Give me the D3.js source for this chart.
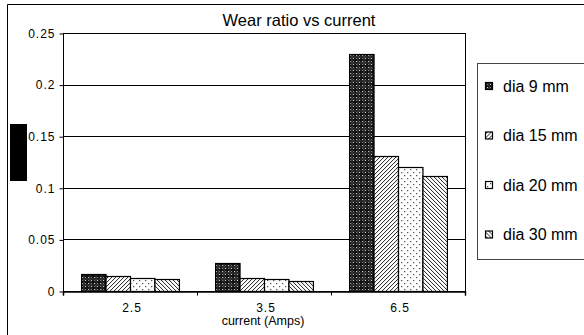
<!DOCTYPE html>
<html>
<head>
<meta charset="utf-8">
<script src="https://cdn.jsdelivr.net/npm/d3@7"></script>
<style>
  body { margin: 0; background: #fff; }
  text { font-family: "Liberation Sans", Arial, sans-serif; }
</style>
</head>
<body>
<script>
// data
var categories = ["2.5", "3.5", "6.5"];
var seriesNames = ["dia 9 mm", "dia 15 mm", "dia 20 mm", "dia 30 mm"];
var dia9 = [0.016, 0.027, 0.230];
var dia15 = [0.015, 0.013, 0.131];
var dia20 = [0.013, 0.0115, 0.120];
var dia30 = [0.0115, 0.010, 0.111];
var yTicks = [0, 0.05, 0.1, 0.15, 0.2, 0.25];

var series = [dia9, dia15, dia20, dia30];
var patIds = ["p9", "p15", "p20", "p30"];

var W = 584, H = 335;
// plot area edges (don't use "top", it is window.top)
var pL = 63, pT = 33, pR = 465, pB = 291;

var svg = d3.select("body").append("svg")
  .attr("width", W).attr("height", H);

// patterns
var defs = svg.append("defs");
var p = defs.append("pattern").attr("id", "p9").attr("patternUnits", "userSpaceOnUse")
  .attr("width", 6).attr("height", 6);
p.append("rect").attr("width", 6).attr("height", 6).attr("fill", "#111");
p.append("rect").attr("x", 1).attr("y", 1).attr("width", 1).attr("height", 1).attr("fill", "#ddd");
p.append("rect").attr("x", 4).attr("y", 4).attr("width", 1).attr("height", 1).attr("fill", "#ddd");
p.append("rect").attr("x", 4).attr("y", 1).attr("width", 1).attr("height", 1).attr("fill", "#888");
p.append("rect").attr("x", 1).attr("y", 4).attr("width", 1).attr("height", 1).attr("fill", "#888");
p.append("path").attr("d", "M0,3h6M3,0v6").attr("stroke", "#555").attr("stroke-width", 0.6);

p = defs.append("pattern").attr("id", "p15").attr("patternUnits", "userSpaceOnUse")
  .attr("width", 4).attr("height", 4);
p.append("rect").attr("width", 4).attr("height", 4).attr("fill", "#fff");
p.append("path").attr("d", "M-1,1L1,-1M0,4L4,0M3,5L5,3").attr("stroke", "#222").attr("stroke-width", 1);

p = defs.append("pattern").attr("id", "p20").attr("patternUnits", "userSpaceOnUse")
  .attr("width", 6).attr("height", 6);
p.append("rect").attr("width", 6).attr("height", 6).attr("fill", "#fff");
p.append("rect").attr("x", 1).attr("y", 1).attr("width", 1.2).attr("height", 1.2).attr("fill", "#444");
p.append("rect").attr("x", 4).attr("y", 4).attr("width", 1.2).attr("height", 1.2).attr("fill", "#444");

p = defs.append("pattern").attr("id", "p30").attr("patternUnits", "userSpaceOnUse")
  .attr("width", 4).attr("height", 4);
p.append("rect").attr("width", 4).attr("height", 4).attr("fill", "#fff");
p.append("path").attr("d", "M-1,3L1,5M0,0L4,4M3,-1L5,1").attr("stroke", "#222").attr("stroke-width", 1);

// outer frame (only left/top visible)
svg.append("path").attr("d", "M7.5," + H + "V4.5H" + W)
  .attr("fill", "none").attr("stroke", "#000").attr("stroke-width", 1);

// plot area
svg.append("rect").attr("x", pL + 0.5).attr("y", pT + 0.5)
  .attr("width", pR - pL).attr("height", pB - pT)
  .attr("fill", "#fff").attr("stroke", "#000").attr("stroke-width", 1);

var x = d3.scaleBand().domain(categories).range([pL, pR]).paddingInner(0.27).paddingOuter(0.135);
var y = d3.scaleLinear().domain([0, 0.25]).range([pB, pT]);
var xs = d3.scaleBand().domain(d3.range(series.length)).range([0, x.bandwidth()]);

// gridlines
svg.append("g").selectAll("line").data(yTicks.slice(1)).enter().append("line")
  .attr("x1", pL).attr("x2", pR)
  .attr("y1", function (d) { return Math.round(y(d)) + 0.5; })
  .attr("y2", function (d) { return Math.round(y(d)) + 0.5; })
  .attr("stroke", "#000");

// y axis
var ya = svg.append("g").attr("transform", "translate(" + (pL + 0.5) + ",0.5)")
  .call(d3.axisLeft(y).tickValues(yTicks).tickSize(4).tickSizeOuter(0)
    .tickFormat(function (d) { return d3.format("")(d); }));
ya.selectAll("text").attr("font-size", "12px").attr("letter-spacing", "1px").attr("dx", "-1px")
  .attr("fill", "#000").attr("font-family", "Liberation Sans, Arial");
ya.select(".domain").remove();
ya.selectAll("line").attr("stroke", "#000");

// bars
var groups = svg.append("g").selectAll("g").data(categories).enter().append("g")
  .attr("transform", function (d) { return "translate(" + x(d) + ",0)"; });
groups.selectAll("rect").data(function (d, i) {
    return series.map(function (s, j) { return { j: j, v: s[i] }; });
  }).enter().append("rect")
  .attr("x", function (d) { return xs(d.j) + 0.5; })
  .attr("y", function (d) { return Math.round(y(d.v)) + 0.5; })
  .attr("width", xs.bandwidth())
  .attr("height", function (d) { return pB - Math.round(y(d.v)); })
  .attr("fill", function (d) { return "url(#" + patIds[d.j] + ")"; })
  .attr("stroke", "#000").attr("stroke-width", 1.2);

// x axis
var xa = svg.append("g").attr("transform", "translate(0," + (pB + 0.5) + ")")
  .call(d3.axisBottom(d3.scaleLinear().domain([0, 3]).range([pL, pR]))
    .tickValues([0, 1, 2, 3]).tickSize(4).tickFormat(""));
xa.select(".domain").attr("stroke", "#000").attr("stroke-width", 1.5);
xa.selectAll("line").attr("stroke", "#000");
svg.append("g").selectAll("text").data(categories).enter().append("text")
  .attr("x", function (d) { return x(d) + x.bandwidth() / 2 + 2; })
  .attr("y", 312)
  .attr("text-anchor", "middle").attr("font-size", "12px").attr("letter-spacing", "1px")
  .text(function (d) { return d; });

svg.append("text").attr("x", 263).attr("y", 325).attr("text-anchor", "middle")
  .attr("font-size", "12.5px").text("current (Amps)");

// title
svg.append("text").attr("x", 299).attr("y", 26).attr("text-anchor", "middle")
  .attr("font-size", "16.5px").text("Wear ratio vs current");

// y-axis title box (rendered as solid block in reference)
svg.append("rect").attr("x", 10).attr("y", 124).attr("width", 17).attr("height", 57).attr("fill", "#000");

// legend
svg.append("rect").attr("x", 477.5).attr("y", 63.5).attr("width", 120).attr("height", 196)
  .attr("fill", "#fff").attr("stroke", "#444").attr("stroke-width", 1);
var lg = svg.append("g").selectAll("g").data(seriesNames).enter().append("g")
  .attr("transform", function (d, i) { return "translate(0," + (86 + i * 49.5) + ")"; });
lg.append("rect").attr("x", 485.5).attr("y", -3.5).attr("width", 7).attr("height", 7)
  .attr("fill", function (d, i) { return "url(#" + patIds[i] + ")"; })
  .attr("stroke", "#000").attr("stroke-width", 1.2);
lg.append("text").attr("x", 503).attr("y", 5.5).attr("font-size", "16px")
  .text(function (d) { return d; });
</script>
</body>
</html>
